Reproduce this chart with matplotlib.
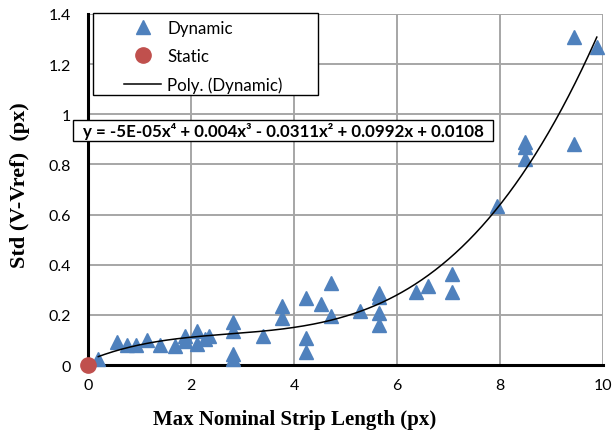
import numpy as np
import matplotlib
matplotlib.use("Agg")
import matplotlib.pyplot as plt
from matplotlib.patches import Rectangle

dyn_x = [0.2, 0.56, 0.75, 0.94, 1.14, 1.4, 1.69, 1.88, 1.88, 2.11, 2.11, 2.27, 2.35,
         2.82, 2.82, 2.82, 2.82, 3.39, 3.77, 3.77, 4.24, 4.24, 4.24, 4.52, 4.71, 4.71,
         5.28, 5.66, 5.66, 5.66, 5.66, 6.36, 6.6, 7.07, 7.07, 7.94, 8.49, 8.49, 8.49,
         9.44, 9.44, 9.88]
dyn_y = [0.024, 0.09, 0.08, 0.08, 0.10, 0.08, 0.077, 0.117, 0.097, 0.137, 0.084, 0.104, 0.117,
         0.17, 0.137, 0.044, 0.024, 0.117, 0.234, 0.186, 0.266, 0.106, 0.053, 0.243, 0.326, 0.197,
         0.217, 0.287, 0.27, 0.206, 0.16, 0.29, 0.316, 0.362, 0.29, 0.635, 0.89, 0.868, 0.822,
         1.31, 0.88, 1.27]
stat_x = [0.0]
stat_y = [0.0]
x_ticks = [0, 2, 4, 6, 8, 10]
y_ticks = [0, 0.2, 0.4, 0.6, 0.8, 1.0, 1.2, 1.4]
y_tick_labels = ["0", "0.2", "0.4", "0.6", "0.8", "1", "1.2", "1.4"]
equation = "y = -5E-05x\u2074 + 0.004x\u00b3 - 0.0311x\u00b2 + 0.0992x + 0.0108"

blue = "#4F81BD"
red = "#C0504D"
W, H = 614, 431

fig = plt.figure(figsize=(6.14, 4.31), dpi=100)
ax = fig.add_axes([88/W, 1-366/H, (603-88)/W, (366-15)/H])

coef = np.polyfit(dyn_x, dyn_y, 4)
xf = np.linspace(min(dyn_x), max(dyn_x), 300)
yf = np.polyval(coef, xf)

ax.plot(dyn_x, dyn_y, linestyle="none", marker="^", markersize=10.5, color=blue,
        label="Dynamic", zorder=3, clip_on=False)
ax.plot(stat_x, stat_y, linestyle="none", marker="o", markersize=11, color=red,
        label="Static", zorder=4, clip_on=False)
ax.plot(xf, yf, color="black", lw=1.1, label="Poly. (Dynamic)", zorder=5)

ax.set_xlim(0, 10)
ax.set_ylim(0, 1.4)
ax.set_xticks(x_ticks)
ax.set_yticks(y_ticks)
ax.set_yticklabels(y_tick_labels)
ax.grid(True, color="#A6A6A6", lw=1.4)
ax.set_axisbelow(True)
for s in ["top", "right"]:
    ax.spines[s].set_visible(False)
for s in ["left", "bottom"]:
    ax.spines[s].set_linewidth(2.2)
    ax.spines[s].set_color("black")
ax.tick_params(length=0, labelsize=11.5)
ax.tick_params(axis="x", pad=9)
ax.tick_params(axis="y", pad=12)
for lab in ax.get_xticklabels() + ax.get_yticklabels():
    lab.set_fontfamily("Lato")

ax.set_xlabel("Max Nominal Strip Length (px)", fontfamily="Liberation Serif",
              fontweight="bold", fontsize=15)
ax.xaxis.set_label_coords((295-88)/515, (366-410)/351)
ax.set_ylabel("Std (V-Vref)  (px)", fontfamily="Liberation Serif",
              fontweight="bold", fontsize=16)
ax.yaxis.set_label_coords((30-88)/515, (366-185)/351)

# legend frame (Excel-style wide box)
ax.add_patch(Rectangle((93/W, 1-96/H), (318-93)/W, (96-14)/H, transform=fig.transFigure,
                       facecolor="white", edgecolor="black", lw=1.0, zorder=6, clip_on=False))
leg = ax.legend(loc="upper left", bbox_to_anchor=(124/W, 1-21/H),
                bbox_transform=fig.transFigure, frameon=False,
                prop={"family": "Lato", "size": 12.2}, borderpad=0.0, labelspacing=0.72,
                handlelength=2.2, handletextpad=0.35, borderaxespad=0.0)
leg.set_zorder(7)

# trendline equation label
ax.add_patch(Rectangle((73/W, 1-142/H), (493-73)/W, (142-121)/H, transform=fig.transFigure,
                       facecolor="white", edgecolor="black", lw=1.0, zorder=6, clip_on=False))
fig.text((73+493)/2/W, 1-132/H, equation, fontsize=12.2, fontweight="bold",
         family=["Lato", "DejaVu Sans"], va="center", ha="center", zorder=8)

fig.savefig("out.png", dpi=100)
